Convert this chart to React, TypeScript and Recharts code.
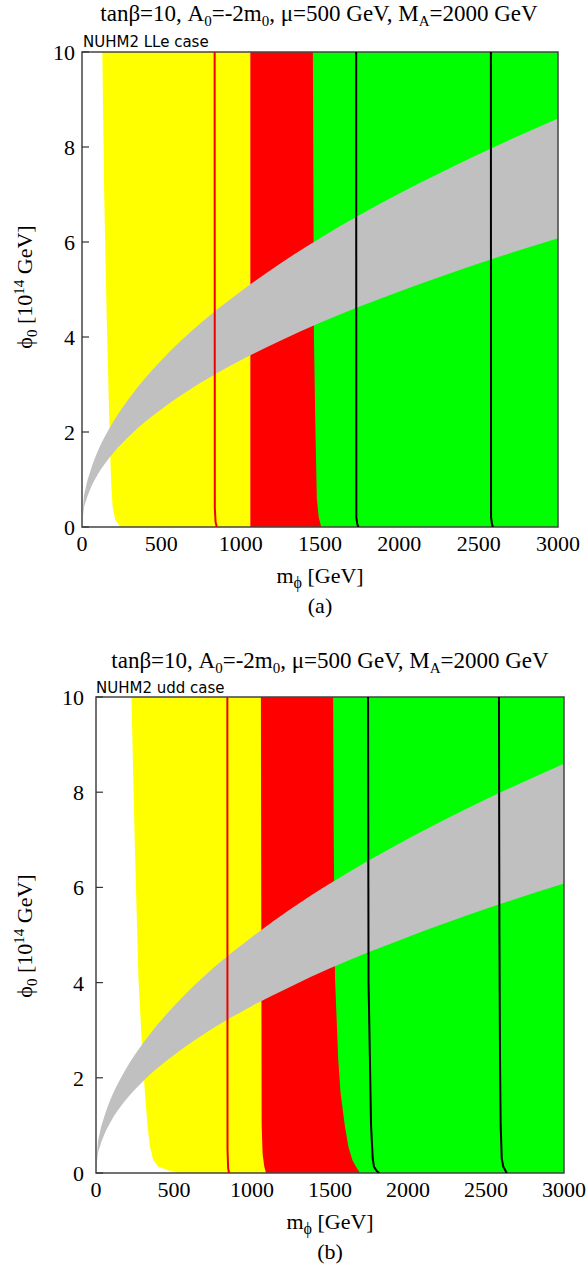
import React from "react";
import { ComposedChart, Area, Line, XAxis, YAxis, ReferenceArea } from "recharts";

// ---- shared axes ----
const X_TICKS = [0, 500, 1000, 1500, 2000, 2500, 3000];
const Y_TICKS = [0, 2, 4, 6, 8, 10];

// ---- panel (a): NUHM2 LLe case ----
const yellowA_m = [128, 140, 155, 172, 178, 185, 193, 210, 235, 245, 1060];
const yellowA_lo = [10, 7, 4.5, 2.25, 1.5, 0.85, 0.43, 0.15, 0.03, 0, 0];
const yellowA_hi = [10, 10, 10, 10, 10, 10, 10, 10, 10, 10, 10];

const redA_m = [1060, 1455, 1462, 1470, 1480, 1492, 1508];
const redA_lo = [0, 0, 0, 0, 0, 0, 0];
const redA_hi = [10, 10, 4, 2.25, 0.6, 0.2, 0];

const greenA_m = [1450, 3000];
const greenA_lo = [0, 0];
const greenA_hi = [10, 10];

const grayA_m = [0, 10, 25, 50, 100, 150, 200, 300, 400, 500, 750, 1000, 1250, 1500, 2000, 2500, 3000];
const grayA_lo = [0, 0.35, 0.55, 0.78, 1.11, 1.36, 1.57, 1.92, 2.22, 2.48, 3.04, 3.51, 3.92, 4.3, 4.96, 5.55, 6.08];
const grayA_hi = [0, 0.55, 0.85, 1.15, 1.6, 1.94, 2.23, 2.72, 3.14, 3.51, 4.3, 4.96, 5.55, 6.08, 7.02, 7.85, 8.6];

const redLineA_m = [836, 837, 842, 850];
const redLineA_phi = [10, 0.4, 0.1, 0];
const blackA1_m = [1728, 1729, 1735, 1743];
const blackA1_phi = [10, 0.2, 0.06, 0];
const blackA2_m = [2577, 2578, 2584, 2590];
const blackA2_phi = [10, 0.2, 0.06, 0];

// ---- panel (b): NUHM2 udd case ----
const yellowB_m = [227, 248, 272, 300, 314, 331, 346, 367, 400, 463, 530, 1057, 1062, 1068, 1079, 1090];
const yellowB_lo = [10, 7, 4.1, 2.37, 1.67, 0.97, 0.55, 0.27, 0.13, 0.06, 0, 0, 0, 0, 0, 0];
const yellowB_hi = [10, 10, 10, 10, 10, 10, 10, 10, 10, 10, 10, 10, 1, 0.4, 0.13, 0];

const redB_m = [1050, 1520, 1524, 1532, 1553, 1568, 1596, 1618, 1644, 1667, 1692];
const redB_lo = [0, 0, 0, 0, 0, 0, 0, 0, 0, 0, 0];
const redB_hi = [10, 10, 7, 4.1, 2.37, 1.67, 0.97, 0.55, 0.27, 0.13, 0];

const greenB_m = [1500, 3000];
const greenB_lo = [0, 0];
const greenB_hi = [10, 10];

const grayB_m = [0, 10, 25, 50, 100, 150, 200, 300, 400, 500, 750, 1000, 1250, 1500, 2000, 2500, 3000];
const grayB_lo = [0, 0.35, 0.55, 0.78, 1.11, 1.36, 1.57, 1.92, 2.22, 2.48, 3.04, 3.51, 3.92, 4.3, 4.96, 5.55, 6.08];
const grayB_hi = [0, 0.55, 0.85, 1.15, 1.6, 1.94, 2.23, 2.72, 3.14, 3.51, 4.3, 4.96, 5.55, 6.08, 7.02, 7.85, 8.6];

const redLineB_m = [842, 843, 847, 853];
const redLineB_phi = [10, 0.5, 0.1, 0];
const blackB1_m = [1744, 1747, 1756, 1763, 1774, 1782, 1800, 1816];
const blackB1_phi = [10, 4, 2.37, 1, 0.3, 0.13, 0.04, 0];
const blackB2_m = [2583, 2586, 2590, 2594, 2601, 2611, 2633];
const blackB2_phi = [10, 5, 2.37, 1, 0.3, 0.13, 0];

const bandRows = (m: number[], lo: number[], hi: number[]) =>
  m.map((v, i) => ({ m: v, band: [lo[i], hi[i]] }));
const lineRows = (m: number[], phi: number[]) => m.map((v, i) => ({ m: v, phi: phi[i] }));

const SERIF = "'Liberation Serif', 'DejaVu Serif', serif";
const SANS = "'DejaVu Sans', Verdana, sans-serif";

function YTick(props: any) {
  const { x, y, payload } = props;
  const m = props.margin ?? 8;
  return (
    <g>
      <text x={x} y={y} dy="0.36em" textAnchor="end" fontSize={22} fontFamily={SERIF} fill="#000">
        {payload.value}
      </text>
      <line x1={x + m} x2={x + m + 7} y1={y} y2={y} stroke="#333" strokeWidth={1.2} />
    </g>
  );
}

interface PanelProps {
  top: number;
  left: number;
  plotLeft: number;
  plotRight: number;
  plotTop: number;
  plotBottom: number;
  tickGap: number;
  yellow: any[];
  red: any[];
  green: any[];
  gray: any[];
  redLine: any[];
  black1: any[];
  black2: any[];
}

const W = 586;
const H = 600;

function Panel(p: PanelProps) {
  const yAxisW = 40;
  const xAxisH = 30;
  return (
    <div style={{ position: "absolute", left: p.left, top: p.top, width: W, height: H }}>
      <ComposedChart
        width={W}
        height={H}
        margin={{
          top: p.plotTop,
          left: p.plotLeft - yAxisW,
          right: W - p.plotRight,
          bottom: H - p.plotBottom - xAxisH,
        }}
      >
        <XAxis
          type="number"
          dataKey="m"
          domain={[0, 3000]}
          ticks={X_TICKS}
          allowDataOverflow
          height={xAxisH}
          tickLine={false}
          axisLine={false}
          tickSize={0}
          tickMargin={8}
          tick={{ fontSize: 22, fontFamily: SERIF, fill: "#000" }}
          interval={0}
        />
        <YAxis
          type="number"
          domain={[0, 10]}
          ticks={Y_TICKS}
          allowDataOverflow
          width={yAxisW}
          tickLine={false}
          axisLine={false}
          tickSize={0}
          tickMargin={p.tickGap}
          interval={0}
          tick={<YTick margin={p.tickGap} />}
        />
        <Area data={p.green} dataKey="band" type="linear" fill="#00ff00" fillOpacity={1} stroke="none" isAnimationActive={false} />
        <Area data={p.red} dataKey="band" type="linear" fill="#ff0000" fillOpacity={1} stroke="none" isAnimationActive={false} />
        <Area data={p.yellow} dataKey="band" type="linear" fill="#ffff00" fillOpacity={1} stroke="none" isAnimationActive={false} />
        <Area data={p.gray} dataKey="band" type="monotone" fill="#c0c0c0" fillOpacity={1} stroke="none" isAnimationActive={false} />
        <Line data={p.redLine} dataKey="phi" type="linear" stroke="#ee0000" strokeWidth={2} dot={false} isAnimationActive={false} />
        <Line data={p.black1} dataKey="phi" type="linear" stroke="#000" strokeWidth={2} dot={false} isAnimationActive={false} />
        <Line data={p.black2} dataKey="phi" type="linear" stroke="#000" strokeWidth={2} dot={false} isAnimationActive={false} />
        <ReferenceArea x1={0} x2={3000} y1={0} y2={10} fill="none" fillOpacity={0} stroke="#444" strokeWidth={1.5} />
      </ComposedChart>
    </div>
  );
}

function Title({ x, y }: { x: number; y: number }) {
  const sub = { fontSize: 15 };
  return (
    <div
      style={{
        position: "absolute",
        left: x,
        top: y,
        transform: "translate(-50%, -50%)",
        whiteSpace: "nowrap",
        fontFamily: SERIF,
        fontSize: 23,
        color: "#000",
        lineHeight: 1.2,
      }}
    >
      tanβ=10, A<sub style={sub}>0</sub>=-2m<sub style={sub}>0</sub>, μ=500 GeV, M<sub style={sub}>A</sub>=2000 GeV
    </div>
  );
}

function Centered({ x, y, children, size = 22, font = SERIF, rotate = 0 }: any) {
  return (
    <div
      style={{
        position: "absolute",
        left: x,
        top: y,
        transform: `translate(-50%, -50%) rotate(${rotate}deg)`,
        whiteSpace: "nowrap",
        fontFamily: font,
        fontSize: size,
        color: "#000",
        lineHeight: 1,
      }}
    >
      {children}
    </div>
  );
}

export default function App() {
  return (
    <div style={{ position: "absolute", left: 0, top: 0, width: 586, height: 1268, background: "#fff", overflow: "hidden" }}>
      <Panel
        top={0}
        left={0}
        plotLeft={82}
        plotRight={558}
        plotTop={52}
        plotBottom={527}
        tickGap={7}
        yellow={bandRows(yellowA_m, yellowA_lo, yellowA_hi)}
        red={bandRows(redA_m, redA_lo, redA_hi)}
        green={bandRows(greenA_m, greenA_lo, greenA_hi)}
        gray={bandRows(grayA_m, grayA_lo, grayA_hi)}
        redLine={lineRows(redLineA_m, redLineA_phi)}
        black1={lineRows(blackA1_m, blackA1_phi)}
        black2={lineRows(blackA2_m, blackA2_phi)}
      />
      <Panel
        top={646}
        left={0}
        plotLeft={96}
        plotRight={564}
        plotTop={51}
        plotBottom={527}
        tickGap={12}
        yellow={bandRows(yellowB_m, yellowB_lo, yellowB_hi)}
        red={bandRows(redB_m, redB_lo, redB_hi)}
        green={bandRows(greenB_m, greenB_lo, greenB_hi)}
        gray={bandRows(grayB_m, grayB_lo, grayB_hi)}
        redLine={lineRows(redLineB_m, redLineB_phi)}
        black1={lineRows(blackB1_m, blackB1_phi)}
        black2={lineRows(blackB2_m, blackB2_phi)}
      />

      <Title x={319} y={15} />
      <div style={{ position: "absolute", left: 83, top: 33, fontFamily: SANS, fontSize: 15, color: "#000", whiteSpace: "nowrap" }}>
        NUHM2 LLe case
      </div>
      <Centered x={26} y={287} rotate={-90}>
        ϕ<sub style={{ fontSize: 15 }}>0</sub> [10<sup style={{ fontSize: 15 }}>14</sup> GeV]
      </Centered>
      <Centered x={320} y={578}>
        m<sub style={{ fontSize: 16 }}>ϕ</sub> [GeV]
      </Centered>
      <Centered x={320} y={606}>(a)</Centered>

      <Title x={330} y={662} />
      <div style={{ position: "absolute", left: 96, top: 679, fontFamily: SANS, fontSize: 15, color: "#000", whiteSpace: "nowrap" }}>
        NUHM2 udd case
      </div>
      <Centered x={26} y={936} rotate={-90}>
        ϕ<sub style={{ fontSize: 15 }}>0</sub> [10<sup style={{ fontSize: 15 }}>14</sup> GeV]
      </Centered>
      <Centered x={330} y={1224}>
        m<sub style={{ fontSize: 16 }}>ϕ</sub> [GeV]
      </Centered>
      <Centered x={330} y={1252}>(b)</Centered>
    </div>
  );
}
